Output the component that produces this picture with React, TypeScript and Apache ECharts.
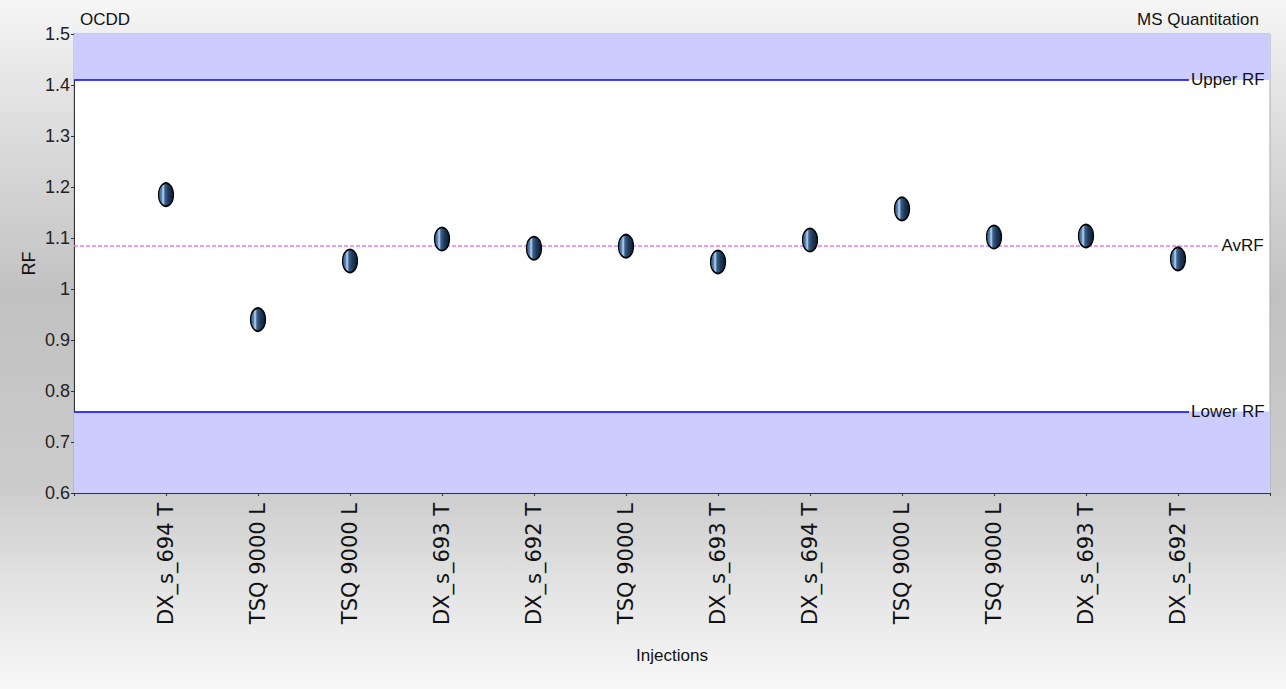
import React, { useEffect, useRef } from "react";
import * as echarts from "echarts";

const categories = [
  "DX_s_694 T", "TSQ 9000 L", "TSQ 9000 L", "DX_s_693 T", "DX_s_692 T", "TSQ 9000 L",
  "DX_s_693 T", "DX_s_694 T", "TSQ 9000 L", "TSQ 9000 L", "DX_s_693 T", "DX_s_692 T",
];
const rfValues = [1.185, 0.94, 1.055, 1.098, 1.08, 1.084, 1.053, 1.096, 1.157, 1.102, 1.104, 1.059];
const upperRF = 1.41;
const lowerRF = 0.76;
const avRF = 1.085;
const yMin = 0.6;
const yMax = 1.5;
const yStep = 0.1;
const titleLeft = "OCDD";
const titleRight = "MS Quantitation";

const SANS = "'Liberation Sans', Arial, sans-serif";

export default function App() {
  const ref = useRef<HTMLDivElement>(null);
  useEffect(() => {
    if (!ref.current) return;
    const chart = echarts.init(ref.current, null, { renderer: "svg" });
    const xMax = categories.length + 1;
    const points = rfValues.map((v, i) => [i + 1, v]);
    const markerFill = new echarts.graphic.LinearGradient(0, 0, 1, 0, [
      { offset: 0, color: "#2a4d78" },
      { offset: 0.2, color: "#5784b6" },
      { offset: 0.31, color: "#c4d8f0" },
      { offset: 0.43, color: "#3a608c" },
      { offset: 0.68, color: "#1d3859" },
      { offset: 1, color: "#0e1c30" },
    ]);
    const lineLabel = (txt: string) => ({
      show: true,
      position: "end" as const,
      distance: 2,
      formatter: txt,
      color: "#111",
      fontFamily: SANS,
      fontSize: 17,
    });
    chart.setOption({
      animation: false,
      backgroundColor: new echarts.graphic.LinearGradient(0, 0, 0, 1, [
        { offset: 0, color: "#f6f6f6" },
        { offset: 0.17, color: "#dfdfdf" },
        { offset: 0.43, color: "#c1c1c1" },
        { offset: 0.7, color: "#cbcbcb" },
        { offset: 0.87, color: "#e6e6e6" },
        { offset: 1, color: "#f8f8f8" },
      ]),
      title: [
        { text: titleLeft, left: 75, top: 6, textStyle: { fontFamily: SANS, fontSize: 17, fontWeight: "normal", color: "#111" } },
        { text: titleRight, right: 22, top: 6, textStyle: { fontFamily: SANS, fontSize: 17, fontWeight: "normal", color: "#111" } },
      ],
      grid: {
        left: 74, right: 16, top: 34, bottom: 196,
        show: true, backgroundColor: "#ffffff", borderColor: "#a9a9bb", borderWidth: 1,
      },
      xAxis: {
        type: "value",
        min: 0,
        max: xMax,
        interval: 1,
        name: "Injections",
        nameLocation: "middle",
        nameGap: 154,
        nameMoveOverlap: false,
        nameTextStyle: { fontFamily: SANS, fontSize: 17, color: "#111" },
        splitLine: { show: false },
        axisLine: { show: true, lineStyle: { color: "#333", width: 1 } },
        axisTick: { show: true, length: 3, lineStyle: { color: "#333" } },
        axisLabel: {
          rotate: 90,
          margin: 10,
          fontFamily: "'DejaVu Sans', sans-serif",
          fontSize: 21,
          color: "#111",
          formatter: (v: number) => categories[v - 1] ?? "",
        },
      },
      yAxis: {
        type: "value",
        min: yMin,
        max: yMax,
        interval: yStep,
        name: "RF",
        nameLocation: "middle",
        nameGap: 36,
        nameMoveOverlap: false,
        nameTextStyle: { fontFamily: SANS, fontSize: 18, color: "#111" },
        splitLine: { show: false },
        axisLine: { show: true, lineStyle: { color: "#333", width: 1 } },
        axisTick: { show: true, length: 3, lineStyle: { color: "#333" } },
        axisLabel: { fontFamily: SANS, fontSize: 18, color: "#222", margin: 4 },
      },
      series: [
        {
          type: "scatter",
          data: points,
          symbol: "circle",
          symbolSize: [15, 23],
          itemStyle: { color: markerFill, borderColor: "#000", borderWidth: 1.5, opacity: 1 },
          z: 5,
          markArea: {
            silent: true,
            itemStyle: { color: "#ccccff", opacity: 1 },
            data: [
              [{ yAxis: upperRF }, { yAxis: yMax }],
              [{ yAxis: yMin }, { yAxis: lowerRF }],
            ],
          },
          markLine: {
            silent: true,
            symbol: ["none", "none"],
            data: [
              [
                { coord: [0, upperRF], lineStyle: { color: "#0000ff", width: 1.5, type: "solid" }, label: lineLabel("Upper RF") },
                { coord: [xMax - 0.88, upperRF] },
              ],
              [
                { coord: [0, avRF], lineStyle: { color: "#ee77ee", width: 1.5, type: [4, 2] }, label: lineLabel("AvRF") },
                { coord: [xMax - 0.55, avRF] },
              ],
              [
                { coord: [0, lowerRF], lineStyle: { color: "#0000ff", width: 1.5, type: "solid" }, label: lineLabel("Lower RF") },
                { coord: [xMax - 0.88, lowerRF] },
              ],
            ],
          },
        },
      ],
    });
    return () => chart.dispose();
  }, []);
  return (
    <div
      ref={ref}
      style={{ position: "fixed", left: 0, top: 0, width: 1286, height: 689 }}
    />
  );
}
